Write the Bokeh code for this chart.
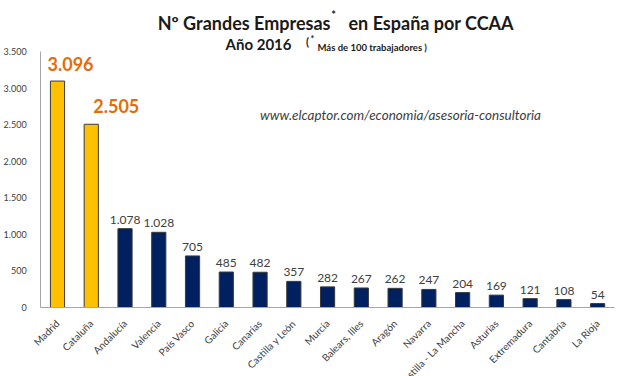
from bokeh.plotting import figure
from bokeh.models import ColumnDataSource, FixedTicker, Range1d, Label, LinearAxis
from bokeh.core.properties import value
from bokeh.embed import file_html
from bokeh.resources import INLINE
import math

regions = ["Madrid", "Cataluña", "Andalucía", "Valencia", "País Vasco", "Galicia",
           "Canarias", "Castilla y León", "Murcia", "Balears, Illes", "Aragón",
           "Navarra", "Castilla - La Mancha", "Asturias", "Extremadura", "Cantabria", "La Rioja"]
companies = [3096, 2505, 1078, 1028, 705, 485, 482, 357, 282, 267, 262, 247, 204, 169, 121, 108, 54]
highlighted = ["Madrid", "Cataluña"]
y_ticks = [0, 500, 1000, 1500, 2000, 2500, 3000, 3500]
y_tick_labels = ["0", "500", "1.000", "1.500", "2.000", "2.500", "3.000", "3.500"]

FONT = "Lato"
W, H = 627, 376
T, L = 0, 0                # page position of canvas top-left
X_FIRST, STEP = 57, 33.76  # page x of first category centre, px per category
Y0, Y3500 = 307, 51        # page y of value 0 and 3500

n = len(regions)
pos = list(range(n))
x_start = -(X_FIRST - L) / STEP
x_end = (n - 1) + ((L + W) - (X_FIRST + (n - 1) * STEP)) / STEP
per_px = 3500 / (Y0 - Y3500)
y_end = 3500 + (Y3500 - T) * per_px
y_start = -((T + H) - Y0) * per_px

def fmt(v):
    return f"{v:,}".replace(",", ".")

colors = ["#FFC000" if r in highlighted else "#002060" for r in regions]
src = ColumnDataSource(dict(x=pos, region=regions, count=companies, color=colors,
                            label=[fmt(v) for v in companies]))

p = figure(width=W, height=H, output_backend="svg", toolbar_location=None,
           min_border_left=0, min_border_right=0, min_border_top=0, min_border_bottom=0,
           x_axis_location=None, y_axis_location=None)
p.x_range = Range1d(x_start, x_end)
p.y_range = Range1d(y_start, y_end)
p.outline_line_color = None
p.xgrid.visible = False
p.ygrid.visible = False

p.vbar(x="x", top="count", width=0.42, fill_color="color", line_color="#3a3a3a",
       line_width=1, source=src)

idx_rest = [i for i, r in enumerate(regions) if r not in highlighted]
rest = ColumnDataSource(dict(x=[pos[i] for i in idx_rest],
                             count=[companies[i] for i in idx_rest],
                             label=[fmt(companies[i]) for i in idx_rest]))
p.text(x="x", y="count", text="label", source=rest, text_font=value(FONT),
       text_font_size="12px", text_color="#404040", text_align="center",
       text_baseline="bottom", y_offset=-5)

offsets = {"Madrid": (13, -10), "Cataluña": (25, -11)}
for i, (r, v) in enumerate(zip(regions, companies)):
    if r in highlighted:
        dx, dy = offsets[r]
        p.text(x=[pos[i]], y=[v], text=[fmt(v)], text_font=value(FONT), text_font_style="bold",
               text_font_size="18px", text_color="#E46C0A", text_align="center",
               text_baseline="bottom", x_offset=dx, y_offset=dy)

ya = LinearAxis(fixed_location=-0.5, ticker=FixedTicker(ticks=y_ticks), bounds=(0, 3500))
ya.major_label_overrides = {t: l for t, l in zip(y_ticks, y_tick_labels)}
ya.major_tick_line_color = None
ya.minor_tick_line_color = None
ya.axis_line_color = "#A6A6A6"
ya.major_label_text_font = FONT
ya.major_label_text_font_size = "9px"
ya.major_label_text_color = "#404040"
ya.major_label_standoff = 8
p.add_layout(ya, "left")

xa = LinearAxis(fixed_location=0, ticker=FixedTicker(ticks=pos), bounds=(-0.5, n - 0.5))
xa.major_label_overrides = {i: r for i, r in zip(pos, regions)}
xa.major_tick_line_color = None
xa.minor_tick_line_color = None
xa.axis_line_color = "#A6A6A6"
xa.major_label_orientation = math.pi / 4
xa.major_label_text_font = FONT
xa.major_label_text_font_size = "10px"
xa.major_label_text_color = "#404040"
xa.major_label_standoff = 8
p.add_layout(xa, "below")

def lab(text, px, py, size, style="normal", color="#1a1a1a", align="center"):
    p.add_layout(Label(x=px - L, y=(T + H) - py, x_units="screen", y_units="screen",
                       text=text, text_font=FONT, text_font_size=size, text_font_style=style,
                       text_color=color, text_align=align, text_baseline="middle"))

lab("Nº Grandes Empresas", 330, 22, "18px", "bold", align="right")
lab("*", 333, 14, "11px", "bold")
lab("en España por CCAA", 348, 22, "18px", "bold", align="left")
lab("Año 2016", 291, 43, "15px", "bold", align="right")
lab("(", 307, 41, "11px", "bold")
lab("*", 312, 38, "9px", "bold")
lab("Más de 100 trabajadores )", 317, 47, "9.5px", "bold", align="left")
lab("www.elcaptor.com/economia/asesoria-consultoria", 400, 114, "13.5px", "italic", "#404040")

open("out.html", "w").write(file_html(p, INLINE))
